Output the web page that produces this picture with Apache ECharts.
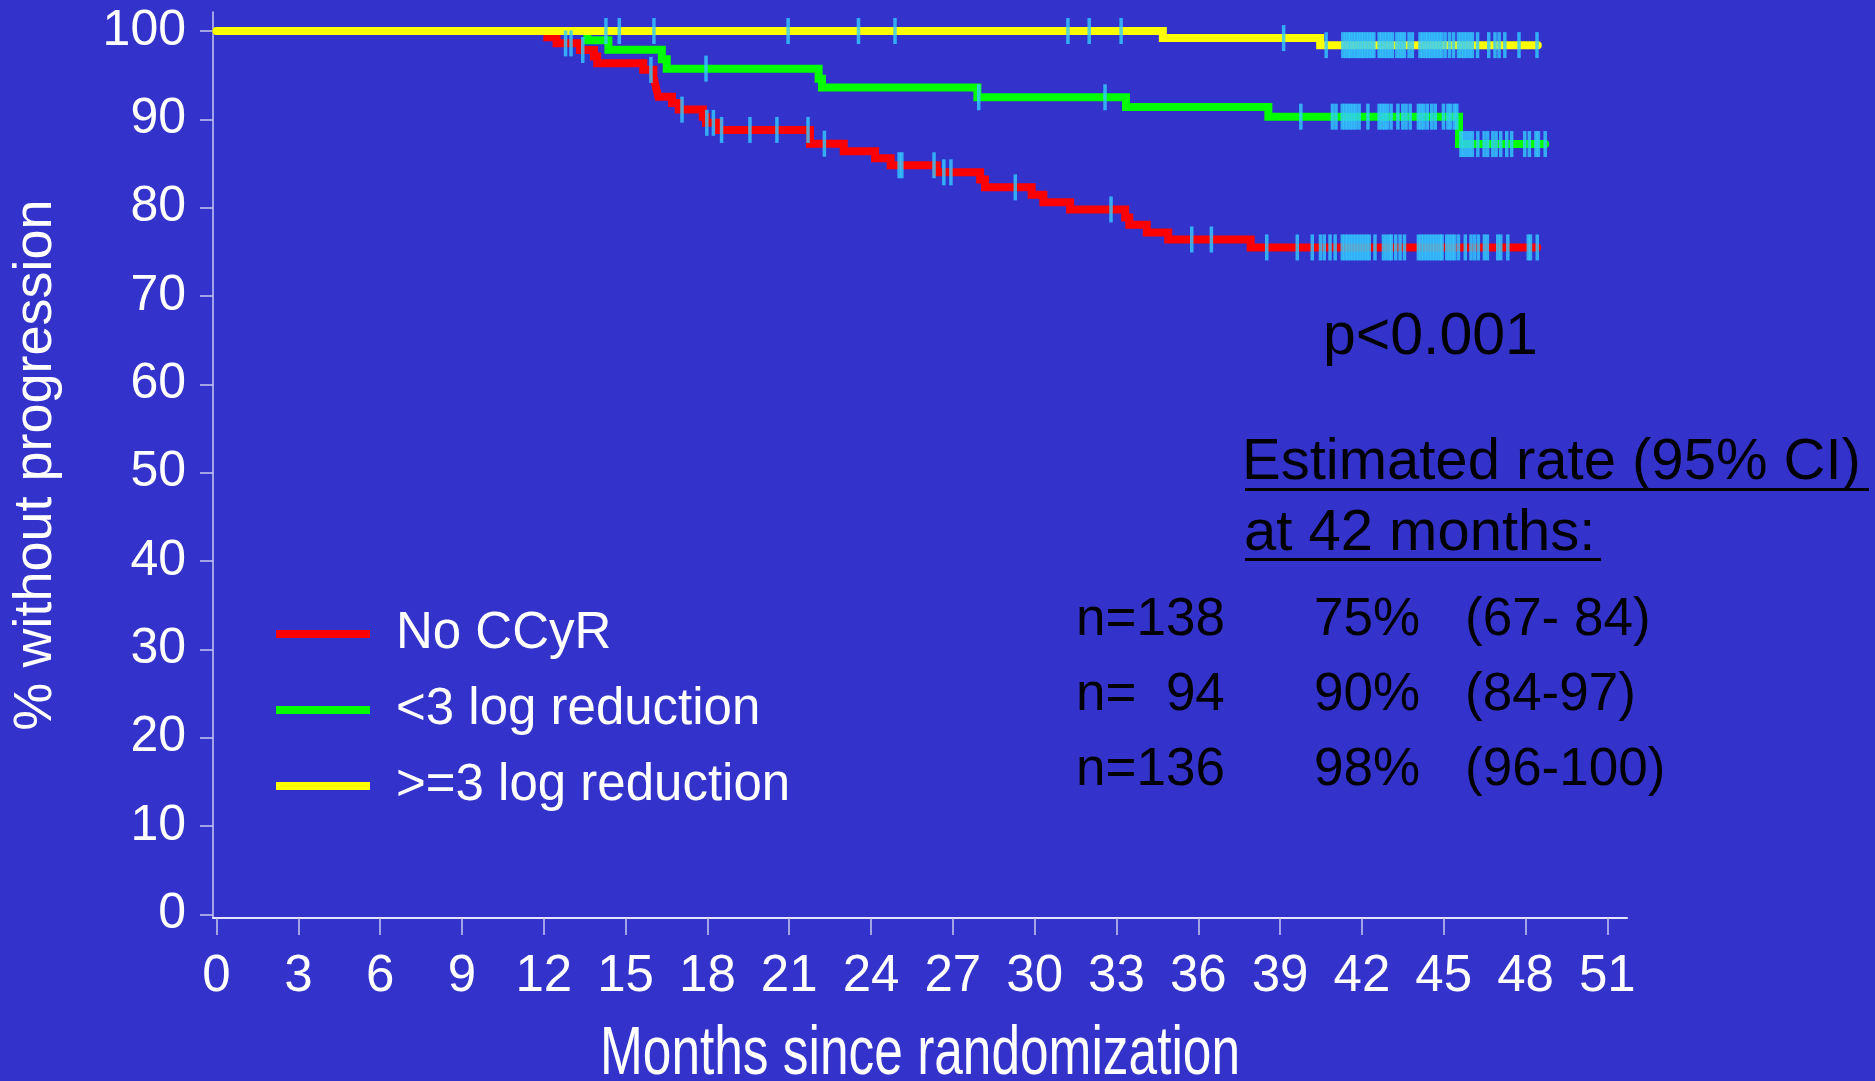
<!DOCTYPE html>
<html><head><meta charset="utf-8">
<script src="https://cdn.jsdelivr.net/npm/echarts@6/dist/echarts.min.js"></script>
<style>html,body{margin:0;padding:0;background:#3333cc}#c{width:1875px;height:1081px}</style>
</head><body><div id="c"></div>
<script>
// ---- data ----
const xTicks = [0,3,6,9,12,15,18,21,24,27,30,33,36,39,42,45,48,51];
const yTicks = [0,10,20,30,40,50,60,70,80,90,100];
const seriesNames = ['No CCyR', '<3 log reduction', '>=3 log reduction'];
const xTitle = 'Months since randomization';
const yTitle = '% without progression';

const redTimes  = [0,12.13,12.47,13.33,13.84,13.96,15.65,16.02,16.08,16.14,16.2,16.7,16.95,17.83,17.95,18.4,21.76,23.0,24.15,24.72,26.41,28.0,28.18,29.89,30.32,31.3,33.32,33.47,34.11,34.9,37.92,48.43];
const redValues = [100,99.3,98.6,97.85,97.1,96.35,95.6,94.85,94.1,93.3,92.56,91.84,91.1,90.3,89.6,88.8,87.24,86.4,85.6,84.8,84.0,83.2,82.3,81.46,80.6,79.8,78.9,78.07,77.2,76.4,75.5,75.5];

const greenTimes  = [0,13.6,14.37,16.33,16.51,22.08,22.2,27.9,33.35,38.57,45.56,48.72];
const greenValues = [100,98.94,97.87,96.8,95.74,94.6,93.6,92.5,91.4,90.3,87.2,87.2];

const yellowTimes  = [0,34.7,40.47,48.45];
const yellowValues = [100,99.2,98.4,98.4];

const redCensored = [12.80,13.00,13.43,15.93,17.07,17.98,18.22,18.52,19.56,20.55,21.69,22.29,25.03,25.13,26.31,26.67,26.93,29.29,32.80,35.76,36.48,38.51,39.63,40.18,
  40.48,40.62,40.83,41.02,41.28,41.38,41.48,41.58,41.68,41.78,41.88,41.98,42.08,42.18,42.27,42.48,
  42.79,42.90,43.01,43.08,43.24,43.40,43.56,44.07,44.17,44.27,44.37,44.47,44.57,44.67,44.77,44.87,44.94,
  45.11,45.21,45.31,45.40,45.54,45.79,46.00,46.13,46.27,46.49,46.60,46.98,47.09,47.35,48.10,48.18,48.43];
const greenCensored = [17.95,27.95,32.58,39.76,40.92,41.05,41.28,41.38,41.48,41.58,41.68,41.78,41.90,42.22,
  42.63,42.73,42.83,42.93,43.07,43.32,43.50,43.62,43.77,44.07,44.17,44.27,44.40,44.56,44.69,44.99,45.15,45.25,45.39,45.48,
  45.63,45.73,45.84,45.95,46.05,46.25,46.48,46.61,46.80,46.92,47.09,47.31,47.49,47.97,48.14,48.38,48.47,48.72];
const yellowCensored = [14.28,14.77,16.04,20.96,23.54,24.88,31.22,32.00,33.17,39.13,40.69,
  41.30,41.40,41.50,41.58,41.68,41.78,41.88,41.97,42.06,42.16,42.26,42.35,42.44,42.63,42.72,42.82,42.92,43.02,43.12,
  43.28,43.38,43.47,43.56,43.73,43.85,44.13,44.23,44.33,44.42,44.52,44.62,44.72,44.82,44.92,45.05,45.21,45.36,
  45.54,45.64,45.74,45.84,45.95,46.05,46.24,46.65,46.88,47.03,47.24,47.76,48.42];

const pText = 'p<0.001';
const rateTitle = ['Estimated rate (95% CI)', 'at 42 months:'];
const rowN    = ['n=138', 'n=  94', 'n=136'];
const rowRate = ['75%', '90%', '98%'];
const rowCI   = ['(67- 84)', '(84-97)', '(96-100)'];

// ---- helpers ----
function pairs(ts, vs){ return ts.map((t,i)=>[t, vs[i]]); }
function survAt(ts, vs, t){ let v = vs[0]; for (let i=0;i<ts.length;i++){ if (ts[i] <= t) v = vs[i]; } return v; }
function censorPts(cs, ts, vs){ return cs.map(t=>[t, survAt(ts, vs, t)]); }

const FONT = "'Liberation Sans', Arial, sans-serif";
const COLORS = ['#ff0000', '#00ff00', '#ffff00'];
const CENSOR = '#33ccff';

const chart = echarts.init(document.getElementById('c'), null, {renderer:'canvas'});

function lineSeries(name, color, ts, vs, z){
  return { name, type:'line', step:'end', data: pairs(ts, vs), showSymbol:false, symbol:'none',
    color, lineStyle:{color, width:8, cap:'round', join:'miter'}, z, animation:false, silent:true };
}
function censorSeries(cs, ts, vs){
  return { type:'scatter', data: censorPts(cs, ts, vs), symbol:'rect', symbolSize:[3.5,26],
    itemStyle:{color:CENSOR}, z:10, animation:false, silent:true };
}

const graphics = [];
// x-axis title (condensed, as in the original slide)
graphics.push({type:'text', x:920, y:1055.5, scaleX:0.756, style:{text:xTitle, fill:'#ffffff', fontSize:68, fontFamily:FONT, textAlign:'center', textVerticalAlign:'middle'}});
graphics.push({type:'text', x:1323, y:337.5, style:{text:pText, fill:'#000', fontSize:59, fontFamily:FONT, textAlign:'left', textVerticalAlign:'middle'}});
graphics.push({type:'text', x:1242, y:463, style:{text:rateTitle[0], fill:'#000', fontSize:58, fontFamily:FONT, textAlign:'left', textVerticalAlign:'middle'}});
graphics.push({type:'text', x:1244, y:534, style:{text:rateTitle[1], fill:'#000', fontSize:58, fontFamily:FONT, textAlign:'left', textVerticalAlign:'middle'}});
graphics.push({type:'rect', shape:{x:1245, y:488, width:624, height:3}, style:{fill:'#000'}});
graphics.push({type:'rect', shape:{x:1245, y:558, width:356, height:3}, style:{fill:'#000'}});
for (let i=0;i<3;i++){
  const cy = 620 + i*75;
  graphics.push({type:'text', x:1076, y:cy, style:{text:rowN[i], fill:'#000', fontSize:53, fontFamily:FONT, textAlign:'left', textVerticalAlign:'middle'}});
  graphics.push({type:'text', x:1314, y:cy, style:{text:rowRate[i], fill:'#000', fontSize:53, fontFamily:FONT, textAlign:'left', textVerticalAlign:'middle'}});
  graphics.push({type:'text', x:1465, y:cy, style:{text:rowCI[i], fill:'#000', fontSize:53, fontFamily:FONT, textAlign:'left', textVerticalAlign:'middle'}});
}

chart.setOption({
  backgroundColor:'#3333cc',
  animation:false,
  grid:{left:213, right:248, top:12, bottom:163, containLabel:false, outerBoundsMode:'none'},
  legend:{
    orient:'vertical', left:271, top:591, itemWidth:94, itemHeight:8, itemGap:0, icon:'rect',
    selectedMode:false, data:seriesNames,
    textStyle:{color:'#ffffff', fontSize:51, fontFamily:FONT, lineHeight:76, padding:[0,0,0,21]}
  },
  xAxis:{
    type:'value', min:-0.128, max:51.72,
    axisLine:{show:true, onZero:false, lineStyle:{color:'#e6e6ff', width:2}},
    axisTick:{show:true, length:17, customValues:xTicks, lineStyle:{color:'#c8c8f0', width:1.5}},
    axisLabel:{customValues:xTicks, margin:33, color:'#ffffff', fontSize:51, fontFamily:FONT},
    splitLine:{show:false}
  },
  yAxis:{
    type:'value', min:-0.41, max:102.15,
    axisLine:{show:true, onZero:false, lineStyle:{color:'#c8c8f0', width:1.5}},
    axisTick:{show:true, length:13, customValues:yTicks, lineStyle:{color:'#c8c8f0', width:1.5}},
    axisLabel:{customValues:yTicks, margin:27, color:'#ffffff', fontSize:50, fontFamily:FONT},
    splitLine:{show:false},
    name:yTitle, nameLocation:'middle', nameGap:150, nameRotate:90,
    nameTextStyle:{color:'#ffffff', fontSize:54, fontFamily:FONT}
  },
  series:[
    lineSeries(seriesNames[0], COLORS[0], redTimes, redValues, 2),
    lineSeries(seriesNames[1], COLORS[1], greenTimes, greenValues, 3),
    lineSeries(seriesNames[2], COLORS[2], yellowTimes, yellowValues, 4),
    censorSeries(redCensored, redTimes, redValues),
    censorSeries(greenCensored, greenTimes, greenValues),
    censorSeries(yellowCensored, yellowTimes, yellowValues)
  ],
  graphic: graphics
});
</script></body></html>
